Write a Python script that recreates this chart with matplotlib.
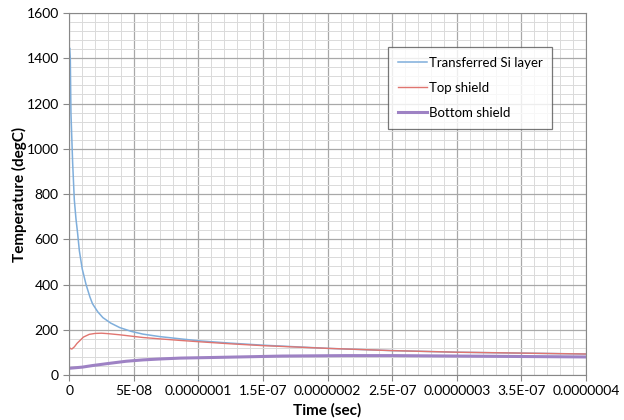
import matplotlib.pyplot as plt
import numpy as np
from matplotlib.ticker import MultipleLocator

# time in nanoseconds (converted to seconds below)
t_si_ns = [0, 0.3, 0.8, 1.3, 2.6, 3.9, 5.2, 6.4, 7.8, 10, 13, 16, 18, 22, 26,
           32, 39, 48, 57, 70, 86, 101, 125, 150, 200, 250, 300, 350, 400]
si_layer = [1440, 1445, 1400, 1160, 940, 775, 690, 630, 550, 470, 400, 345,
            315, 280, 254, 230, 210, 193, 181, 170, 160, 151, 141, 132, 118,
            108, 101, 97, 93]

t_top_ns = [0, 1, 2, 4, 6, 7.8, 11, 15.5, 20, 25, 30, 39, 48, 57, 70, 86,
            101, 125, 150, 200, 250, 300, 350, 400]
top_shield = [122, 117, 115, 125, 140, 150, 168, 180, 184, 185, 183, 178,
              172, 166, 160, 153, 147, 138, 130, 118, 108, 101, 97, 93]

t_bot_ns = [0, 10, 18, 30, 44, 57, 70, 86, 114, 140, 165, 214, 250, 300,
            350, 400]
bottom_shield = [30, 35, 42, 51, 61, 67, 71, 75, 78, 81, 84, 86, 86, 84,
                 82, 80]

xtick_vals = [0, 5e-8, 1e-7, 1.5e-7, 2e-7, 2.5e-7, 3e-7, 3.5e-7, 4e-7]
xtick_labels = ['0', '5E-08', '0.0000001', '1.5E-07', '0.0000002',
                '2.5E-07', '0.0000003', '3.5E-07', '0.0000004']

plt.rcParams['font.family'] = ['Lato', 'DejaVu Sans']

fig = plt.figure(figsize=(6.24, 4.2), dpi=100)
ax = fig.add_axes([0.111, 0.107, 0.828, 0.862])

ns = 1e-9
ax.plot(np.array(t_si_ns) * ns, si_layer, color='#7FAEDB', lw=1.1,
        label='Transferred Si layer')
ax.plot(np.array(t_top_ns) * ns, top_shield, color='#E07570', lw=1.0,
        label='Top shield')
ax.plot(np.array(t_bot_ns) * ns, bottom_shield, color='#9E82C4', lw=2.2,
        label='Bottom shield')

ax.set_xlim(0, 4e-7)
ax.set_ylim(0, 1600)
ax.set_xticks(xtick_vals)
ax.set_xticklabels(xtick_labels)
ax.yaxis.set_major_locator(MultipleLocator(200))
ax.xaxis.set_minor_locator(MultipleLocator(1e-8))
ax.yaxis.set_minor_locator(MultipleLocator(40))
ax.grid(which='major', color='#A8A8A8', lw=0.9)
ax.grid(which='minor', color='#DADADA', lw=0.7)
ax.set_axisbelow(True)
ax.tick_params(which='minor', length=0)
ax.tick_params(which='major', length=4, color='#888888', labelsize=10)
for s in ax.spines.values():
    s.set_color('#888888')

ax.set_xlabel('Time (sec)', fontsize=11, fontweight='bold', labelpad=4)
ax.set_ylabel('Temperature (degC)', fontsize=11, fontweight='bold', labelpad=0)

leg = ax.legend(loc='upper left', bbox_to_anchor=(0.605, 0.925), fontsize=9.5,
                frameon=True, fancybox=False, edgecolor='#555555',
                handlelength=2.2, labelspacing=1.0, borderpad=0.75,
                handletextpad=0.1)
leg.get_frame().set_linewidth(0.9)

fig.savefig('out.png')
